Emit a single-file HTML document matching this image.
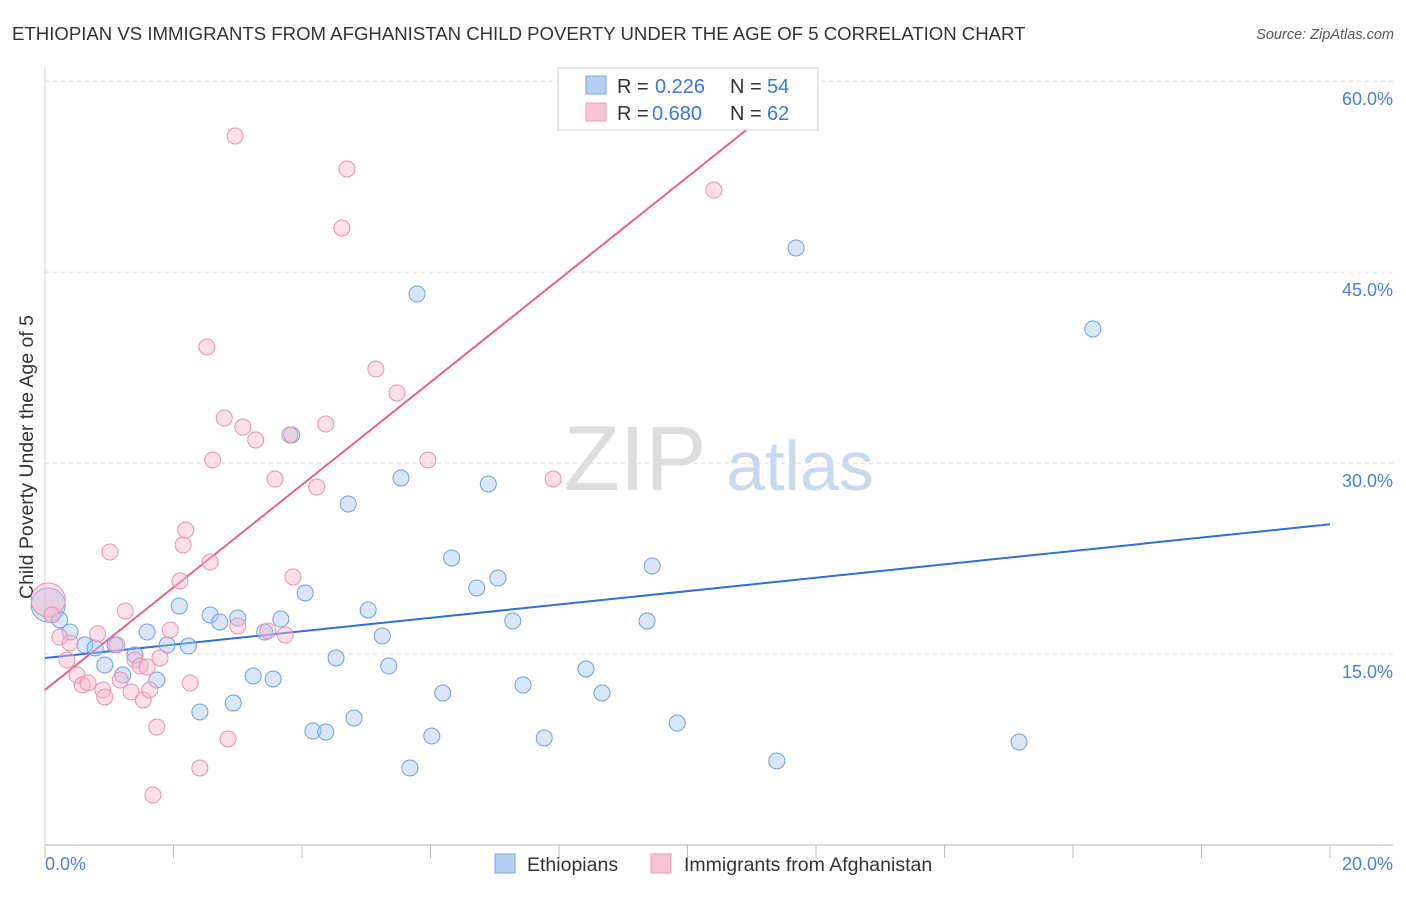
<!DOCTYPE html>
<html><head><meta charset="utf-8"><style>
body{margin:0;background:#fff;font-family:"Liberation Sans",sans-serif}
svg text{font-family:"Liberation Sans",sans-serif}
</style></head><body>
<svg id="chart" width="1406" height="892">
<text x="12" y="40" font-size="18.6" fill="#333">ETHIOPIAN VS IMMIGRANTS FROM AFGHANISTAN CHILD POVERTY UNDER THE AGE OF 5 CORRELATION CHART</text>
<text x="1394" y="39" font-size="14.5" fill="#555" font-style="italic" text-anchor="end">Source: ZipAtlas.com</text>
<text x="33" y="457" font-size="19.5" fill="#333" text-anchor="middle" transform="rotate(-90 33 457)">Child Poverty Under the Age of 5</text>
<g><text x="635" y="490" font-size="92" fill="#ddd" font-family="Liberation Serif" text-anchor="middle">ZIP</text><text x="800" y="490" font-size="70" fill="#c8d8ee" text-anchor="middle">atlas</text></g>
<g id="grid"></g><g id="axes"></g><g id="lines"></g><g id="points"></g>
<g>
<rect x="558" y="68" width="260" height="62" fill="#fff" stroke="#ccc"/>
<rect x="586" y="76" width="20" height="18" fill="#b5cff3" stroke="#7aa5e3"/>
<rect x="586" y="103" width="20" height="18" fill="#f8c3d3" stroke="#eb9ab6"/>
<text x="617" y="93" font-size="20" fill="#333">R =</text><text x="655" y="93" font-size="20" fill="#3a78d8">0.226</text><text x="730" y="93" font-size="20" fill="#333">N =</text><text x="767" y="93" font-size="20" fill="#3a78d8">54</text>
<text x="617" y="120" font-size="20" fill="#333">R =</text><text x="652" y="120" font-size="20" fill="#3a78d8">0.680</text><text x="730" y="120" font-size="20" fill="#333">N =</text><text x="767" y="120" font-size="20" fill="#3a78d8">62</text>
</g>
<g>
<rect x="495" y="854" width="20" height="19" fill="#b5cff3" stroke="#7aa5e3"/>
<text x="527" y="871" font-size="19.5" fill="#333">Ethiopians</text>
<rect x="651" y="854" width="20" height="19" fill="#f8c3d3" stroke="#eb9ab6"/>
<text x="684" y="871" font-size="19.5" fill="#333">Immigrants from Afghanistan</text>
</g>
</svg>
<script>
const yTicks=[15,30,45,60];
const yTickLabels=["15.0%","30.0%","45.0%","60.0%"];
const xTickLabels=["0.0%","20.0%"];
const blueX=[0.05,0.23,0.39,0.62,0.78,0.93,1.09,1.21,1.40,1.59,1.74,1.90,2.09,2.23,2.41,2.57,2.72,2.93,3.00,3.24,3.42,3.55,3.67,3.84,4.05,4.17,4.37,4.53,4.72,4.81,5.03,5.25,5.35,5.54,5.68,5.79,6.02,6.19,6.33,6.72,6.90,7.05,7.28,7.44,7.77,8.42,8.67,9.37,9.45,9.84,11.39,11.69,15.16,16.31];
const blueY=[18.85,17.68,16.73,15.71,15.48,14.14,15.71,13.35,14.93,16.73,12.96,15.71,18.77,15.63,10.45,18.07,17.52,11.15,17.83,13.28,16.73,13.04,17.75,32.21,19.80,8.96,8.88,14.69,26.79,9.98,18.46,16.42,14.06,28.83,6.05,43.28,8.56,11.94,22.55,20.19,28.36,20.97,17.60,12.57,8.41,13.83,11.94,17.60,21.92,9.58,6.60,46.90,8.09,40.53];
const pinkX=[0.05,0.11,0.23,0.34,0.39,0.50,0.58,0.67,0.82,0.90,0.93,1.01,1.12,1.17,1.25,1.34,1.40,1.48,1.53,1.59,1.63,1.68,1.74,1.79,1.95,2.10,2.15,2.19,2.26,2.41,2.52,2.57,2.61,2.79,2.85,2.96,3.00,3.08,3.28,3.47,3.58,3.74,3.81,3.86,4.23,4.37,4.62,4.70,5.15,5.48,5.96,7.91,10.41];
const pinkY=[19.25,18.07,16.34,14.53,15.87,13.35,12.57,12.73,16.58,12.18,11.63,23.02,15.71,12.96,18.38,12.02,14.53,14.06,11.39,13.98,12.18,3.93,9.27,14.69,16.89,20.74,23.57,24.74,12.73,6.05,39.12,22.23,30.24,33.54,8.33,55.70,17.20,32.84,31.81,16.81,28.75,16.50,32.21,21.05,28.12,33.07,48.47,53.10,37.39,35.51,30.24,28.75,51.45];
const blueTrend=[14.69,25.2];
const pinkTrend=[12.18,4.03];
const NS="http://www.w3.org/2000/svg";
const X=v=>45+v*64.25, Y=v=>845-v*12.73;
function mk(t,a,p){const e=document.createElementNS(NS,t);for(const k in a)e.setAttribute(k,a[k]);document.getElementById(p).appendChild(e);return e;}
yTicks.forEach((t,i)=>{
 let l=mk('line',{x1:45,x2:1393,y1:Y(t),y2:Y(t),stroke:'#ddd','stroke-dasharray':'4,4'},'grid');
 
 
 let tx=mk('text',{x:1393,y:Y(t)+24,'font-size':18,fill:'#4a7fd4','text-anchor':'end'},'grid');tx.textContent=yTickLabels[i];
 
 
});
mk('line',{x1:45,x2:1393,y1:845,y2:845,stroke:'#bbb'},'axes');
mk('line',{x1:45,x2:45,y1:68,y2:845,stroke:'#ccc'},'axes');
for(let i=0;i<=10;i++){let t=mk('line',{x1:X(i*2),x2:X(i*2),y1:845,y2:858,stroke:'#bbb'},'axes');
 
 }
let a=mk('text',{x:45,y:870,'font-size':18,fill:'#4a7fd4'},'axes');a.textContent=xTickLabels[0];


let b=mk('text',{x:1393,y:870,'font-size':18,fill:'#4a7fd4','text-anchor':'end'},'axes');b.textContent=xTickLabels[1];


let bl=mk('line',{x1:X(0),y1:Y(blueTrend[0]),x2:X(20),y2:Y(blueTrend[1]),stroke:'#2f6fd6','stroke-width':2},'lines');


const pEnd=(60-pinkTrend[0])/pinkTrend[1];
let pl=mk('line',{x1:X(0),y1:Y(pinkTrend[0]),x2:X(pEnd),y2:Y(60),stroke:'#e8608c','stroke-width':2},'lines');


function pts(xs,ys,fill,stroke,name){xs.forEach((x,i)=>{
 const r=i===0?17:8;
 let c=mk('circle',{cx:X(x),cy:Y(ys[i]),r:r,fill:fill,'fill-opacity':0.45,stroke:stroke,'stroke-width':1},'points');
 
 
});}
pts(blueX,blueY,'#a9c8f0','#6b9fe0','ethiopian-point');
pts(pinkX,pinkY,'#f5b8cc','#e890b0','afghanistan-point');
</script>
</body></html>
